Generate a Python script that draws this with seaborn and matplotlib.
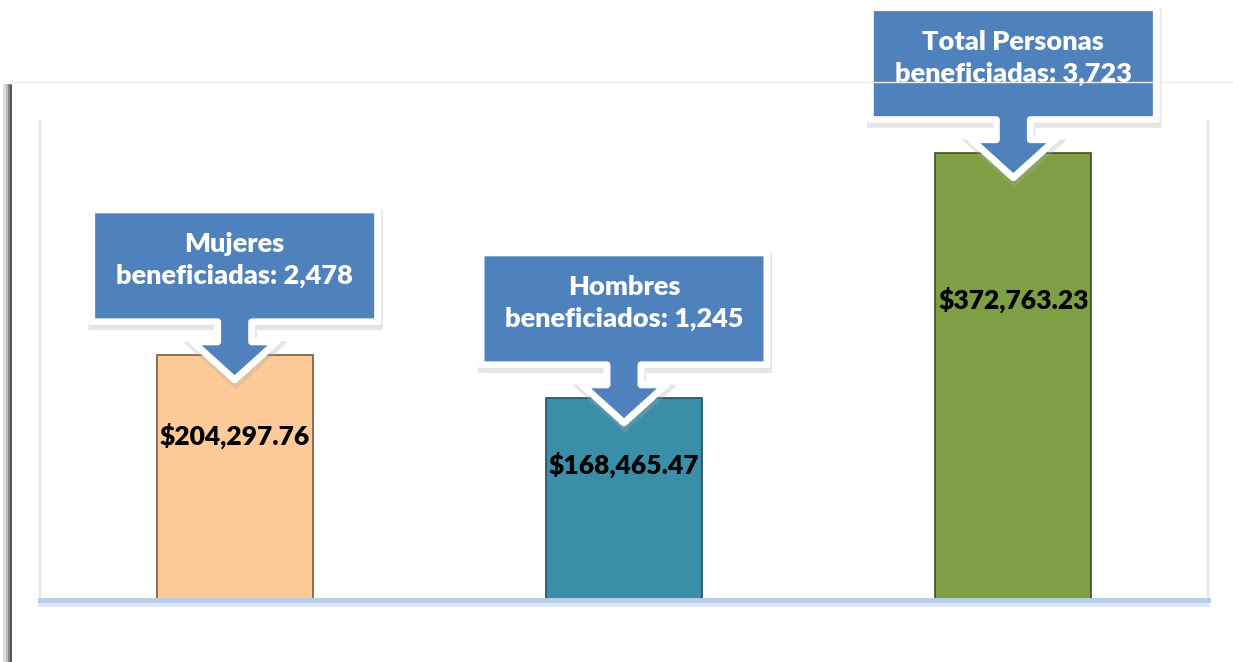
import numpy as np
import pandas as pd
import matplotlib
matplotlib.use("Agg")
import matplotlib.pyplot as plt
import matplotlib.transforms as mtransforms
from matplotlib.patches import Polygon
from matplotlib.lines import Line2D
import seaborn as sns

# ---- data ----
categorias = ["Mujeres", "Hombres", "Total"]
montos = [204297.76, 168465.47, 372763.23]
callout_txt = ["Mujeres\nbeneficiadas: 2,478",
               "Hombres\nbeneficiados: 1,245",
               "Total Personas\nbeneficiadas: 3,723"]
colores = ["#FDCA98", "#3A8EA8", "#7F9F45"]
bordes = ["#7a5a3c", "#1f4f5e", "#3f5222"]

df = pd.DataFrame({"cat": categorias, "monto": montos})

sns.set_style("white")
plt.rcParams['font.family'] = ['Lato', 'DejaVu Sans']

fig = plt.figure(figsize=(12.33, 6.62), dpi=100)
W, H = 1233, 662
ax = fig.add_axes([40 / W, (H - 600) / H, 1168 / W, 480 / H])

sns.barplot(data=df, x="cat", y="monto", hue="cat", palette=colores,
            width=0.4, legend=False, ax=ax, saturation=1)
for p, ec in zip(ax.patches, bordes):
    p.set_edgecolor(ec)
    p.set_linewidth(1.2)

ax.set_ylim(0, 400000)
ax.set_xlim(-0.5, 2.5)
ax.set_xlabel(""); ax.set_ylabel("")
ax.set_xticks([]); ax.set_yticks([])
ax.spines['top'].set_visible(False)
ax.spines['left'].set_color('#DCE6F4'); ax.spines['left'].set_linewidth(1.5)
ax.spines['right'].set_color('#DCE6F4'); ax.spines['right'].set_linewidth(1.5)
ax.spines['bottom'].set_color('#B9CDE9'); ax.spines['bottom'].set_linewidth(3.5)

# valores dentro de las barras
for i, v in enumerate(montos):
    ax.text(i, v * 0.67, f"${v:,.2f}", ha='center', va='center',
            fontsize=19, fontweight='heavy', color='black', zorder=5)

# callouts (forma en pixeles, anclada a la punta de cada barra)
bw, bb, bh = 143, 58, 112   # medio ancho, base de la caja, alto
s, h, ht = 17, 42, 38       # medio ancho del tallo, cabeza, alto de cabeza
baja = 25                   # la punta entra en la barra
forma = np.array([(-bw, bb), (-bw, bb + bh), (bw, bb + bh), (bw, bb),
                  (s, bb), (s, ht), (h, ht), (0, 0), (-h, ht), (-s, ht), (-s, bb)])
for i, v in enumerate(montos):
    base = mtransforms.ScaledTranslation(i, v, ax.transData)
    tr = mtransforms.Affine2D().translate(0, -baja) + base
    sombra = mtransforms.Affine2D().translate(1, -baja - 4) + base
    ax.add_patch(Polygon(forma, closed=True, transform=sombra, facecolor='#aaaaaa',
                         edgecolor='#aaaaaa', lw=6, alpha=0.3, zorder=6, clip_on=False))
    ax.add_patch(Polygon(forma, closed=True, transform=tr, facecolor='#4F81BD',
                         edgecolor='white', lw=5, joinstyle='round', zorder=7, clip_on=False))
    ax.annotate(callout_txt[i], xy=(i, v), xytext=(0, bb + bh / 2 - baja + 6),
                textcoords='offset pixels', ha='center', va='center',
                fontsize=19.5, fontweight='heavy', color='white',
                linespacing=1.4, zorder=8, annotation_clip=False)

# marco exterior
fig.add_artist(Line2D([12 / W, 1], [(H - 82) / H] * 2, color='#EEEEEE', lw=1))
for k, (dx, c) in enumerate([(0, '#555555'), (-2, '#888888'), (-4, '#BBBBBB'), (-6, '#DDDDDD')]):
    fig.add_artist(Line2D([(10 + dx) / W] * 2, [0, (H - 85) / H], color=c, lw=2.2))
fig.add_artist(Line2D([40 / W, 1208 / W], [(H - 605) / H] * 2, color='#DCE6F4', lw=3))

fig.savefig("out.png", dpi=100)
